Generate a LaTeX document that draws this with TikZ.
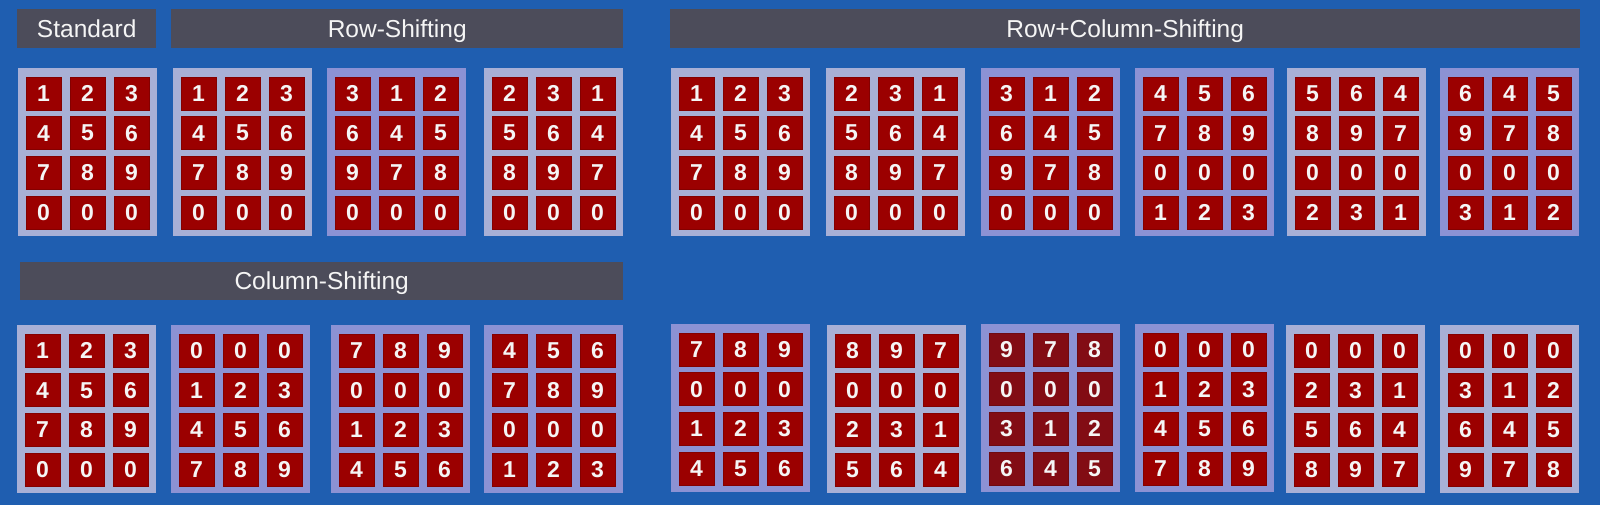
\documentclass[tikz,border=0pt]{standalone}
\usepackage{fontspec}
\setmainfont{Liberation Sans}
\definecolor{bgblue}{RGB}{31,94,176}
\definecolor{hdrgray}{RGB}{76,76,90}
\definecolor{panellight}{RGB}{168,176,214}
\definecolor{panelpurple}{RGB}{140,146,212}
\definecolor{cellred}{RGB}{155,0,0}
\definecolor{cellredd}{RGB}{130,12,20}
\definecolor{txtwhite}{RGB}{245,245,245}
\tikzset{
  hdr/.style={fill=hdrgray, inner sep=0pt, anchor=north west, text=txtwhite,
    text height=17pt, text depth=0pt,
    font=\fontsize{24.5}{26}\selectfont},
  panelbox/.style={fill=#1, inner sep=0pt, anchor=north west,
    minimum width=139pt, minimum height=168pt},
  cellbox/.style={fill=#1, draw=#1!85!black, line width=0.6pt, inner sep=0pt,
    minimum width=35pt, minimum height=33pt, text=txtwhite,
    font=\fontsize{23}{24}\bfseries\selectfont},
}
% name, x, y, panel colour, cell colour, digits
\newcommand\gridpanel[6]{%
  \node[panelbox=#4] (#1) at (#2,#3) {};
  \foreach \v [count=\k from 0] in {#6} {
    \pgfmathtruncatemacro\rr{int(\k/3)}
    \pgfmathtruncatemacro\cc{mod(\k,3)}
    \node[cellbox=#5] (#1-\rr-\cc) at ($(#2,#3)+(25.5+44*\cc,25.5+39.7*\rr)$) {\v};
  }%
}
\usetikzlibrary{calc}
\begin{document}
\begin{tikzpicture}[x=1pt,y=-1pt]
\useasboundingbox (0,0) rectangle (1600,505);
\fill[bgblue] (0,0) rectangle (1600,505);
% headers
\node[hdr, minimum width=139pt, minimum height=39pt] (hstd) at (17,9) {Standard};
\node[hdr, minimum width=452pt, minimum height=39pt] (hrow) at (171,9) {Row-Shifting};
\node[hdr, minimum width=910pt, minimum height=39pt] (hrc) at (670,9) {Row+Column-Shifting};
\node[hdr, minimum width=603pt, minimum height=38pt] (hcol) at (20,262) {Column-Shifting};
% top-left
\gridpanel{ta}{18}{68}{panellight}{cellred}{1,2,3,4,5,6,7,8,9,0,0,0}
\gridpanel{tb}{173}{68}{panellight}{cellred}{1,2,3,4,5,6,7,8,9,0,0,0}
\gridpanel{tc}{327}{68}{panelpurple}{cellred}{3,1,2,6,4,5,9,7,8,0,0,0}
\gridpanel{td}{484}{68}{panellight}{cellred}{2,3,1,5,6,4,8,9,7,0,0,0}
% top-right
\gridpanel{te}{671}{68}{panellight}{cellred}{1,2,3,4,5,6,7,8,9,0,0,0}
\gridpanel{tf}{826}{68}{panellight}{cellred}{2,3,1,5,6,4,8,9,7,0,0,0}
\gridpanel{tg}{981}{68}{panelpurple}{cellred}{3,1,2,6,4,5,9,7,8,0,0,0}
\gridpanel{th}{1135}{68}{panelpurple}{cellred}{4,5,6,7,8,9,0,0,0,1,2,3}
\gridpanel{ti}{1287}{68}{panellight}{cellred}{5,6,4,8,9,7,0,0,0,2,3,1}
\gridpanel{tj}{1440}{68}{panelpurple}{cellred}{6,4,5,9,7,8,0,0,0,3,1,2}
% bottom-left
\gridpanel{ba}{17}{325}{panellight}{cellred}{1,2,3,4,5,6,7,8,9,0,0,0}
\gridpanel{bb}{171}{325}{panelpurple}{cellred}{0,0,0,1,2,3,4,5,6,7,8,9}
\gridpanel{bc}{331}{325}{panelpurple}{cellred}{7,8,9,0,0,0,1,2,3,4,5,6}
\gridpanel{bd}{484}{325}{panelpurple}{cellred}{4,5,6,7,8,9,0,0,0,1,2,3}
% bottom-right
\gridpanel{be}{671}{324}{panelpurple}{cellred}{7,8,9,0,0,0,1,2,3,4,5,6}
\gridpanel{bf}{827}{325}{panellight}{cellred}{8,9,7,0,0,0,2,3,1,5,6,4}
\gridpanel{bg}{981}{324}{panelpurple}{cellredd}{9,7,8,0,0,0,3,1,2,6,4,5}
\gridpanel{bh}{1135}{324}{panelpurple}{cellred}{0,0,0,1,2,3,4,5,6,7,8,9}
\gridpanel{bi}{1286}{325}{panellight}{cellred}{0,0,0,2,3,1,5,6,4,8,9,7}
\gridpanel{bj}{1440}{325}{panellight}{cellred}{0,0,0,3,1,2,6,4,5,9,7,8}
\end{tikzpicture}
\end{document}
